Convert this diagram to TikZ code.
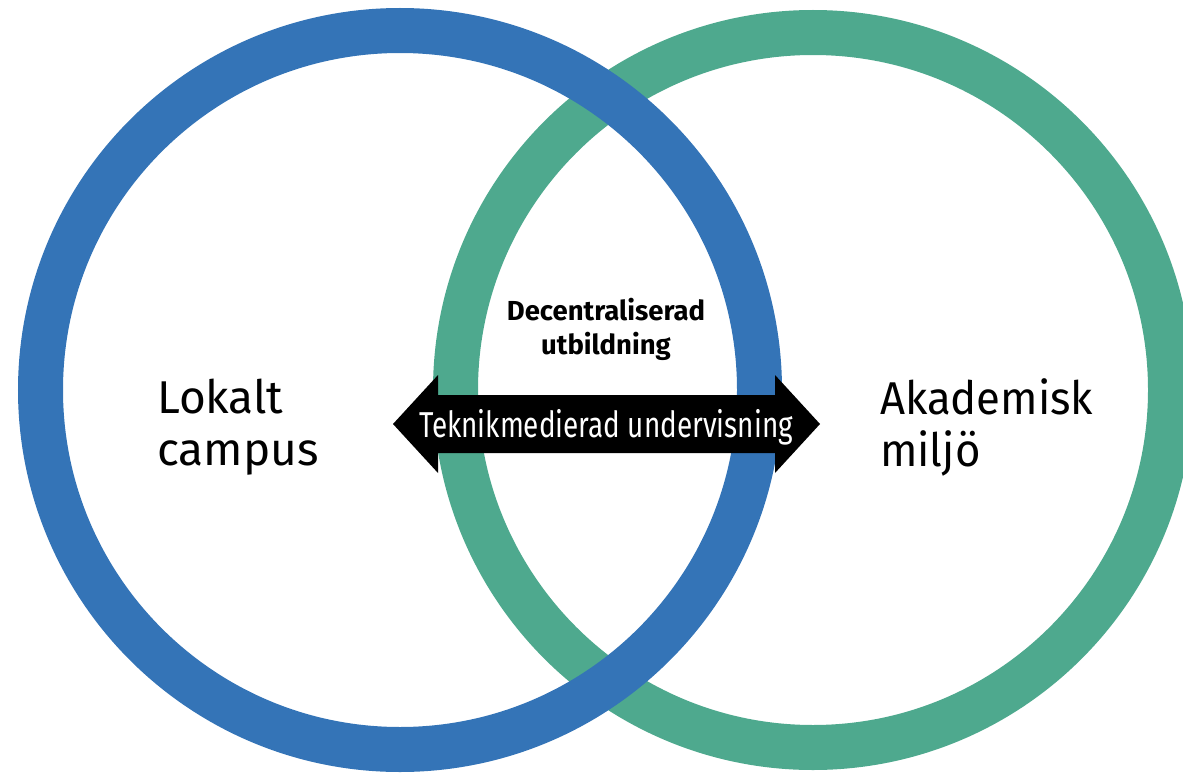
\documentclass[tikz,border=0pt]{standalone}
\usepackage{fontspec}
\setmainfont{Fira Sans}
\definecolor{cblue}{HTML}{3474B7}
\definecolor{cgreen}{HTML}{4EA98E}
\tikzset{
  ring/.style={line width=45pt},
  biglabel/.style={anchor=base west, align=left, inner sep=0pt, font=\fontsize{46}{52}\selectfont},
}
\begin{document}
\begin{tikzpicture}[x=1pt,y=-1pt]
\useasboundingbox (0,0) rectangle (1183,773);
\clip (0,0) rectangle (1183,773);
\draw[cgreen, ring] (813,390) circle[radius=357.5pt];
\draw[cblue, ring] (400,390) circle[radius=359.5pt];
\fill[black] (393,424) -- (438,375) -- (438,395) -- (775,395) -- (775,375) -- (820,424)
  -- (775,473) -- (775,453) -- (438,453) -- (438,473) -- cycle;
\node[anchor=base, inner sep=0pt, text=white, font=\fontsize{36}{40}\selectfont] (tek) at (606,437)
  {\scalebox{0.775}[1]{Teknikmedierad undervisning}};
\node[anchor=base, align=center, inner sep=0pt, font=\bfseries\fontsize{27.5}{34}\selectfont] (dec) at (606,354)
  {Decentraliserad\\utbildning};
\node[biglabel] (lok) at (157,465) {Lokalt\\campus};
\node[biglabel] (aka) at (880,466) {\scalebox{0.95}[1]{Akademisk}\\\scalebox{0.95}[1]{miljö}};
\end{tikzpicture}
\end{document}
